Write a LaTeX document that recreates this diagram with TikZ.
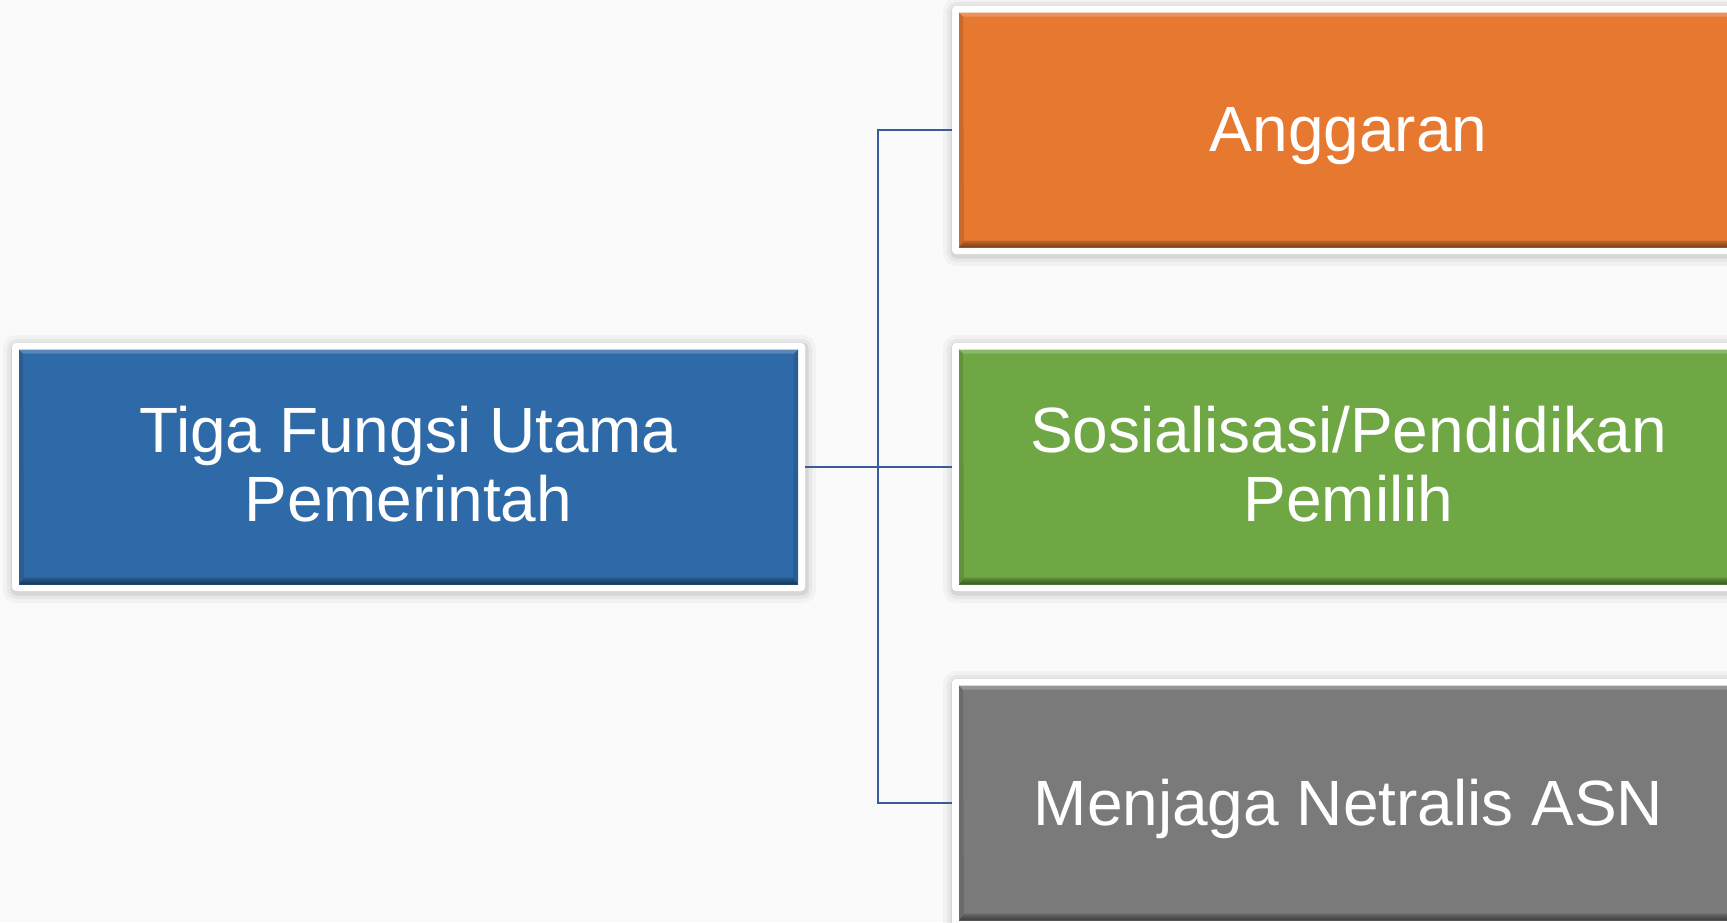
\documentclass[tikz,border=0pt]{standalone}
\usepackage{fontspec}
\setmainfont{Liberation Sans}
\usetikzlibrary{calc}
\definecolor{bgc}{HTML}{FAFAFA}
\definecolor{cblue}{HTML}{2E6AA7}
\definecolor{corange}{HTML}{E67830}
\definecolor{cgreen}{HTML}{6FA744}
\definecolor{cgray}{HTML}{7A7A7A}
\definecolor{cline}{HTML}{3A5A9E}
\tikzset{
  frame/.style={rectangle, rounded corners=4pt, fill=white, minimum width=793pt, minimum height=248pt, inner sep=0pt,
    preaction={draw=black, draw opacity=0.03, line width=20pt, transform canvas={xshift=1pt, yshift=-2pt}},
    preaction={draw=black, draw opacity=0.045, line width=12pt, transform canvas={xshift=1pt, yshift=-2pt}},
    preaction={draw=black, draw opacity=0.07, line width=5pt, transform canvas={xshift=1pt, yshift=-2pt}}},
  facebox/.style={rectangle, inner sep=0pt, minimum width=779pt, minimum height=235pt, fill=#1,
    path picture={
      \coordinate (pSW) at (path picture bounding box.south west);
      \coordinate (pSE) at (path picture bounding box.south east);
      \coordinate (pNW) at (path picture bounding box.north west);
      \coordinate (pNE) at (path picture bounding box.north east);
      \fill[#1!88!black] (pNW) -- (pSW) -- ([xshift=5pt,yshift=7pt]pSW) -- ([xshift=4pt,yshift=-4pt]pNW) -- cycle;
      \fill[#1!88!black] (pNE) -- (pSE) -- ([xshift=-5pt,yshift=7pt]pSE) -- ([xshift=-4pt,yshift=-4pt]pNE) -- cycle;
      \shade[top color=#1!85!black, bottom color=#1!50!black] (pSW) -- (pSE) -- ([xshift=-5pt,yshift=7pt]pSE) -- ([xshift=5pt,yshift=7pt]pSW) -- cycle;
      \fill[#1!80!white] (pNW) -- (pNE) -- ([xshift=-4pt,yshift=-4pt]pNE) -- ([xshift=4pt,yshift=-4pt]pNW) -- cycle;
    }},
  lbl/.style={text=white, font=\fontsize{64}{69}\selectfont, align=center, inner sep=0pt},
  conn/.style={draw=cline, line width=2pt}
}
\begin{document}
\begin{tikzpicture}[x=1pt, y=-1pt]
  \useasboundingbox (0,0) rectangle (1727,922);
  \clip (0,0) rectangle (1727,922);
  \fill[bgc] (0,0) rectangle (1727,922);

  % frames
  \node[frame] (blueF) at (408.5,467) {};
  \node[frame] (orangeF) at (1348.5,130) {};
  \node[frame] (greenF) at (1348.5,467) {};
  \node[frame] (grayF) at (1348.5,803) {};

  % coloured faces
  \node[facebox=cblue] (blueB) at (blueF.center) {};
  \node[facebox=corange] (orangeB) at (orangeF.center) {};
  \node[facebox=cgreen] (greenB) at (greenF.center) {};
  \node[facebox=cgray] (grayB) at (grayF.center) {};

  % labels
  \node[lbl] (blueT) at ([yshift=3pt]blueB.center) {Tiga Fungsi Utama\\Pemerintah};
  \node[lbl, anchor=base] (orangeT) at ([yshift=-21pt]orangeB.center) {Anggaran};
  \node[lbl] (greenT) at ([yshift=3pt]greenB.center) {Sosialisasi/Pendidikan\\Pemilih};
  \node[lbl, anchor=base] (grayT) at ([yshift=-22pt]grayB.center) {Menjaga Netralis ASN};

  % connectors
  \coordinate (jx) at (878,467);
  \draw[conn] (blueF.east) -- (greenF.west);
  \draw[conn] (orangeF.west) -| (jx) |- (grayF.west);
\end{tikzpicture}
\end{document}
